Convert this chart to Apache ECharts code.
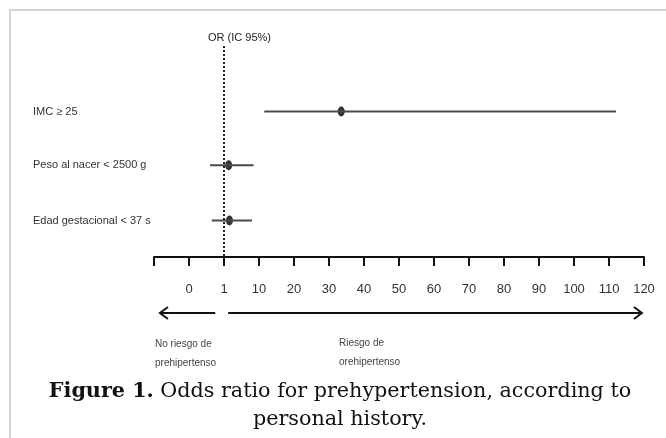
<!DOCTYPE html>
<html>
<head>
<meta charset="utf-8">
<script src="https://cdn.jsdelivr.net/npm/echarts@6.0.0/dist/echarts.min.js"></script>
<style>
html,body{margin:0;padding:0;background:#fff;}
#chart{width:666px;height:438px;}
</style>
</head>
<body>
<div id="chart"></div>
<script>
// ---- data ----
var categories = ['IMC \u2265 25', 'Peso al nacer < 2500 g', 'Edad gestacional < 37 s'];
var orValues = [33.5, 2.2, 2.4];
var ciLow = [11.5, 0.6, 0.65];
var ciHigh = [112, 8.6, 8.2];
// axis ticks (non-uniform scale, drawn evenly spaced)
var tickLabels = ['', '0', '1', '10', '20', '30', '40', '50', '60', '70', '80', '90', '100', '110', '120'];
var tickValues = [null, 0, 1, 10, 20, 30, 40, 50, 60, 70, 80, 90, 100, 110, 120];
var refValue = 1;

var NARROW = "'Liberation Sans Narrow', 'Liberation Sans', sans-serif";

// map an OR value to its position on the evenly-spaced tick scale
function toAxis(v) {
  for (var i = 1; i < tickValues.length - 1; i++) {
    var a = tickValues[i], b = tickValues[i + 1];
    if (v >= a && v <= b) return i + (v - a) / (b - a);
  }
  return v < tickValues[1] ? 1 : tickValues.length - 1;
}

var rowPos = [1.22, 2.22, 3.25];

var series = [];
categories.forEach(function (c, i) {
  series.push({
    type: 'line', name: c + ' IC',
    data: [[toAxis(ciLow[i]), rowPos[i]], [toAxis(ciHigh[i]), rowPos[i]]],
    symbol: 'none',
    lineStyle: { color: '#4a4a4a', width: 2 },
    silent: true, animation: false
  });
});
series.push({
  type: 'scatter', name: 'OR',
  data: categories.map(function (c, i) { return [toAxis(orValues[i]), rowPos[i]]; }),
  symbol: 'circle', symbolSize: [7, 10],
  itemStyle: { color: '#000' },
  silent: true, animation: false,
  markLine: {
    silent: true, symbol: 'none', animation: false,
    label: { show: false },
    lineStyle: { type: [2, 2], width: 2, color: '#222' },
    data: [{ xAxis: toAxis(refValue) }]
  }
});

var chart = echarts.init(document.getElementById('chart'), null, { renderer: 'canvas' });
chart.setOption({
  backgroundColor: '#fff',
  animation: false,
  title: [{
    text: 'OR (IC 95%)',
    left: 203, top: 27,
    textStyle: { fontFamily: NARROW, fontSize: 11, fontWeight: 'normal', color: '#222' }
  }, {
    text: '{b|Figure 1.} Odds ratio for prehypertension, according to\npersonal history.',
    left: 335, top: 373, textAlign: 'center',
    textStyle: {
      fontFamily: "'DejaVu Serif', serif", fontSize: 20.7, fontWeight: 'normal', color: '#111', lineHeight: 28,
      rich: { b: { fontFamily: "'DejaVu Serif', serif", fontSize: 20.7, fontWeight: 'bold', color: '#111', lineHeight: 28 } }
    }
  }],
  grid: { left: 154, right: 22, top: 46, height: 211 },
  xAxis: {
    type: 'value', min: 0, max: 14, interval: 1, position: 'bottom',
    axisLine: { show: true, onZero: false, lineStyle: { color: '#111', width: 2 } },
    axisTick: { show: true, length: 9, lineStyle: { color: '#111', width: 2 } },
    axisLabel: {
      margin: 26, fontFamily: NARROW, fontSize: 13, color: '#333',
      showMinLabel: true, showMaxLabel: true,
      formatter: function (v) { return tickLabels[Math.round(v)] || ''; }
    },
    splitLine: { show: false }
  },
  yAxis: {
    type: 'value', inverse: true, min: 0, max: 3.93,
    axisLine: { show: false }, axisTick: { show: false }, splitLine: { show: false },
    axisLabel: {
      customValues: rowPos, align: 'left', margin: 121,
      fontFamily: NARROW, fontSize: 11, color: '#333',
      formatter: function (v) {
        var best = 0;
        for (var i = 0; i < rowPos.length; i++) if (Math.abs(rowPos[i] - v) < Math.abs(rowPos[best] - v)) best = i;
        return categories[best];
      }
    }
  },
  series: series
});

// annotations: arrows and risk texts below the axis
var arrowY = 313;
var xL0 = chart.convertToPixel({ xAxisIndex: 0 }, 1.75);
var xL1 = chart.convertToPixel({ xAxisIndex: 0 }, 0.17);
var xR0 = chart.convertToPixel({ xAxisIndex: 0 }, 2.12);
var xR1 = chart.convertToPixel({ xAxisIndex: 0 }, 13.94);
var st = { stroke: '#111', lineWidth: 2, fill: null };
chart.setOption({
  graphic: [
    { type: 'polyline', shape: { points: [[10, 438], [10, 10], [666, 10]] }, style: { stroke: '#d4d4d4', lineWidth: 2, fill: null }, silent: true },
    { type: 'line', shape: { x1: xL0, y1: arrowY, x2: xL1, y2: arrowY }, style: st, silent: true },
    { type: 'polyline', shape: { points: [[xL1 + 8, arrowY - 6], [xL1, arrowY], [xL1 + 8, arrowY + 6]] }, style: st, silent: true },
    { type: 'line', shape: { x1: xR0, y1: arrowY, x2: xR1, y2: arrowY }, style: st, silent: true },
    { type: 'polyline', shape: { points: [[xR1 - 8, arrowY - 6], [xR1, arrowY], [xR1 - 8, arrowY + 6]] }, style: st, silent: true },
    { type: 'text', left: 155, top: 335, silent: true,
      style: { text: 'No riesgo de\nprehipertenso', font: '10px ' + NARROW, fill: '#444', lineHeight: 19 } },
    { type: 'text', left: 339, top: 334, silent: true,
      style: { text: 'Riesgo de\norehipertenso', font: '10px ' + NARROW, fill: '#444', lineHeight: 19 } }
  ]
});
</script>
</body>
</html>
